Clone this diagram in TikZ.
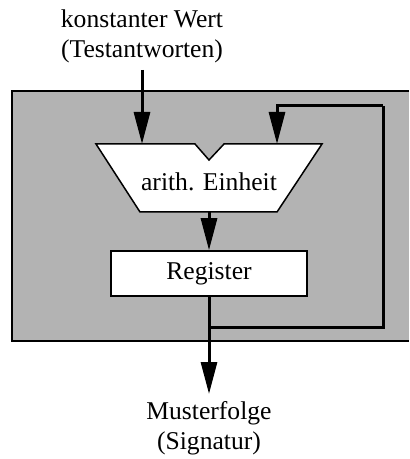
\documentclass[tikz,border=0pt]{standalone}
\usepackage{fontspec}
\setmainfont{Liberation Serif}
\usepackage{tikz}
\usetikzlibrary{arrows.meta}
\definecolor{boxgray}{RGB}{179,179,179}
\tikzset{
  sig/.style={line width=1.5pt},
  arr/.style={sig,-{Triangle[length=16pt,width=8pt]}},
  part/.style={draw,line width=0.75pt,fill=white},
  lbl/.style={align=center,font=\fontsize{12.8}{15}\selectfont}
}

\begin{document}
\begin{tikzpicture}[x=0.5pt,y=-0.5pt]
\useasboundingbox (0,0) rectangle (409,459);
\fill[boxgray] (12,91) rectangle (409,341);
\draw[line width=0.75pt] (409,91) -- (12,91) -- (12,341) -- (409,341);
\draw[part] (96,144) -- (195,144) -- (209,160) -- (224,144) -- (322,144)
  -- (277,212) -- (140,212) -- cycle;
\coordinate (alul) at (142,144);
\coordinate (alur) at (277,144);
\coordinate (aluout) at (209,212);
\coordinate (tap) at (209,327);
\coordinate (corner) at (383,106);
\node[lbl] (alu) at (209,182) {arith. Einheit};
\node[part,lbl,minimum width=98pt,minimum height=22.5pt] (reg) at (209,273.5) {Register};
\node[lbl,anchor=south] (in) at (142,70) {konstanter Wert\\(Testantworten)};
\node[lbl,anchor=north] (out) at (209,394) {Musterfolge\\(Signatur)};
\draw[arr] (in.south) -- (alul);
\draw[arr] (aluout) -- (reg.north);
\draw[arr] (reg.south) -- (out.north);
\draw[sig] (tap) -| (corner);
\draw[arr] (corner) -| (alur);
\end{tikzpicture}
\end{document}
